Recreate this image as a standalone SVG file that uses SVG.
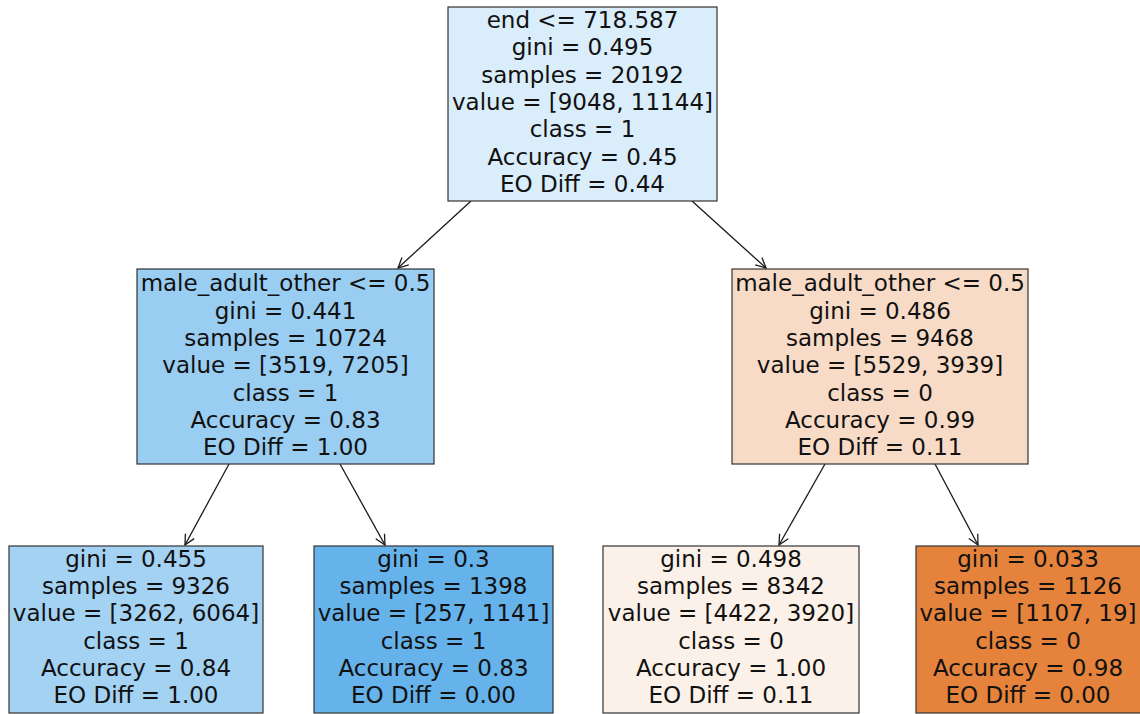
<svg xmlns="http://www.w3.org/2000/svg" width="1140" height="714" viewBox="0 0 1140 714">
  <defs>
    <marker id="arrow" viewBox="0 0 12 12" refX="11" refY="6" markerWidth="12" markerHeight="12" markerUnits="userSpaceOnUse" orient="auto">
      <path d="M1,1 L11,6 L1,11" fill="none" stroke="#1a1a1a" stroke-width="1.3"/>
    </marker>
  </defs>
  <style>
    .box { stroke: #333333; stroke-width: 1.2; }
    .lbl { font-family: "DejaVu Sans", sans-serif; font-size: 23px; fill: #111111; text-anchor: middle; }
    .edge { stroke: #1a1a1a; stroke-width: 1.3; fill: none; marker-end: url(#arrow); }
  </style>
  <rect width="1140" height="714" fill="#ffffff"/>

  <!-- connectors -->
  <g id="edges">
    <line class="edge" x1="471" y1="201" x2="398" y2="268"/>
    <line class="edge" x1="692" y1="201" x2="766" y2="268"/>
    <line class="edge" x1="229" y1="464" x2="185" y2="545"/>
    <line class="edge" x1="340" y1="464" x2="385" y2="545"/>
    <line class="edge" x1="825" y1="464" x2="779" y2="545"/>
    <line class="edge" x1="935" y1="464" x2="978" y2="545"/>
  </g>

  <!-- root split -->
  <g id="node0">
    <rect class="box" x="448" y="7" width="269" height="194" fill="#daedfa"/>
    <text class="lbl" x="582.5" y="28">end &lt;= 718.587</text>
    <text class="lbl" x="582.5" y="55.3">gini = 0.495</text>
    <text class="lbl" x="582.5" y="82.6">samples = 20192</text>
    <text class="lbl" x="582.5" y="109.9">value = [9048, 11144]</text>
    <text class="lbl" x="582.5" y="137.2">class = 1</text>
    <text class="lbl" x="582.5" y="164.5">Accuracy = 0.45</text>
    <text class="lbl" x="582.5" y="191.8">EO Diff = 0.44</text>
  </g>

  <!-- left split -->
  <g id="node1">
    <rect class="box" x="137" y="269" width="297" height="195" fill="#9acdf2"/>
    <text class="lbl" x="285.5" y="291.3">male_adult_other &lt;= 0.5</text>
    <text class="lbl" x="285.5" y="318.6">gini = 0.441</text>
    <text class="lbl" x="285.5" y="345.9">samples = 10724</text>
    <text class="lbl" x="285.5" y="373.2">value = [3519, 7205]</text>
    <text class="lbl" x="285.5" y="400.5">class = 1</text>
    <text class="lbl" x="285.5" y="427.8">Accuracy = 0.83</text>
    <text class="lbl" x="285.5" y="455.1">EO Diff = 1.00</text>
  </g>

  <!-- right split -->
  <g id="node4">
    <rect class="box" x="732" y="269" width="296" height="195" fill="#f8dbc6"/>
    <text class="lbl" x="880" y="291.3">male_adult_other &lt;= 0.5</text>
    <text class="lbl" x="880" y="318.6">gini = 0.486</text>
    <text class="lbl" x="880" y="345.9">samples = 9468</text>
    <text class="lbl" x="880" y="373.2">value = [5529, 3939]</text>
    <text class="lbl" x="880" y="400.5">class = 0</text>
    <text class="lbl" x="880" y="427.8">Accuracy = 0.99</text>
    <text class="lbl" x="880" y="455.1">EO Diff = 0.11</text>
  </g>

  <!-- leaves -->
  <g id="node2">
    <rect class="box" x="9" y="546" width="254" height="167" fill="#a4d2f3"/>
    <text class="lbl" x="136" y="567">gini = 0.455</text>
    <text class="lbl" x="136" y="594.2">samples = 9326</text>
    <text class="lbl" x="136" y="621.4">value = [3262, 6064]</text>
    <text class="lbl" x="136" y="648.6">class = 1</text>
    <text class="lbl" x="136" y="675.8">Accuracy = 0.84</text>
    <text class="lbl" x="136" y="703">EO Diff = 1.00</text>
  </g>

  <g id="node3">
    <rect class="box" x="314" y="546" width="239" height="167" fill="#66b3eb"/>
    <text class="lbl" x="433.5" y="567">gini = 0.3</text>
    <text class="lbl" x="433.5" y="594.2">samples = 1398</text>
    <text class="lbl" x="433.5" y="621.4">value = [257, 1141]</text>
    <text class="lbl" x="433.5" y="648.6">class = 1</text>
    <text class="lbl" x="433.5" y="675.8">Accuracy = 0.83</text>
    <text class="lbl" x="433.5" y="703">EO Diff = 0.00</text>
  </g>

  <g id="node5">
    <rect class="box" x="603" y="546" width="256" height="167" fill="#fcf1e8"/>
    <text class="lbl" x="731" y="567">gini = 0.498</text>
    <text class="lbl" x="731" y="594.2">samples = 8342</text>
    <text class="lbl" x="731" y="621.4">value = [4422, 3920]</text>
    <text class="lbl" x="731" y="648.6">class = 0</text>
    <text class="lbl" x="731" y="675.8">Accuracy = 1.00</text>
    <text class="lbl" x="731" y="703">EO Diff = 0.11</text>
  </g>

  <g id="node6">
    <rect class="box" x="916" y="546" width="226" height="167" fill="#e5833c"/>
    <text class="lbl" x="1028" y="567">gini = 0.033</text>
    <text class="lbl" x="1028" y="594.2">samples = 1126</text>
    <text class="lbl" x="1028" y="621.4">value = [1107, 19]</text>
    <text class="lbl" x="1028" y="648.6">class = 0</text>
    <text class="lbl" x="1028" y="675.8">Accuracy = 0.98</text>
    <text class="lbl" x="1028" y="703">EO Diff = 0.00</text>
  </g>
</svg>
